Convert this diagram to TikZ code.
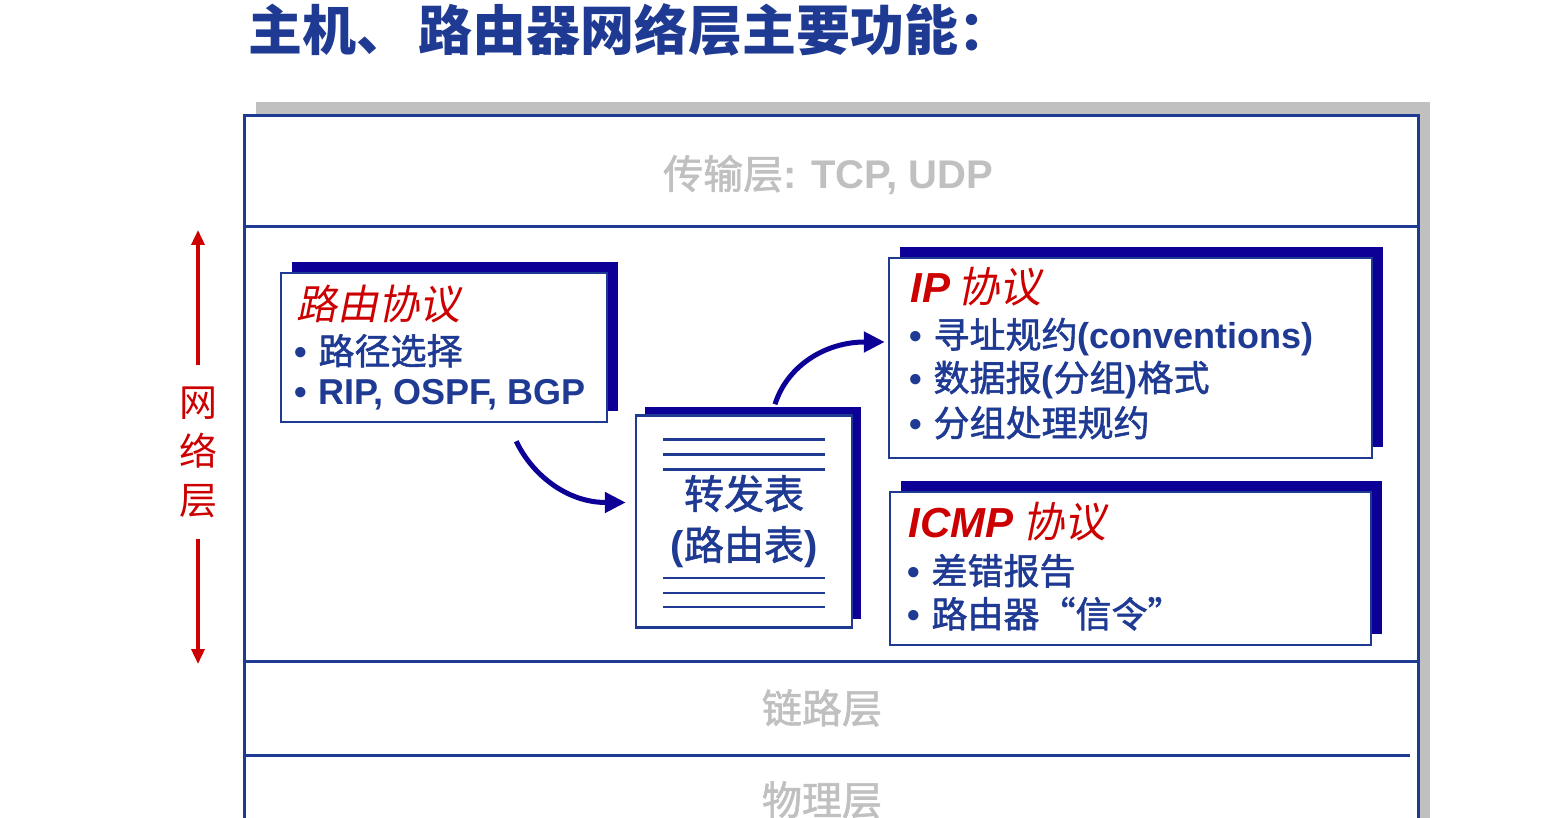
\documentclass[tikz,border=0pt]{standalone}
\usepackage{fontspec}
\setmainfont{Noto Sans CJK SC}[AutoFakeSlant=0.2]
\newfontfamily\cjkmed{Noto Sans CJK SC}[FakeBold=1.5]
\newfontfamily\latin{Liberation Sans}
\usetikzlibrary{arrows.meta,shadows}
\definecolor{netblue}{RGB}{31,58,147}
\definecolor{navy}{RGB}{12,0,150}
\definecolor{netred}{RGB}{204,0,0}
\definecolor{layergray}{RGB}{192,192,192}
\newcommand{\en}[1]{{\latin\bfseries #1}}
\newcommand{\bul}{{\latin\bfseries\textbullet}\hspace{11pt}}

\tikzset{
  panel/.style={draw=netblue, line width=2.5pt, fill=white, inner sep=0pt,
    general shadow={fill=navy, shadow xshift=#1, shadow yshift=#1}},
  panel/.default=11pt,
  hd/.style={anchor=west, inner sep=0pt, text=netred, font=\fontsize{42}{42}\selectfont\itshape},
  item/.style={anchor=west, inner sep=0pt, text=netblue, font=\fontsize{36}{36}\selectfont\cjkmed},
  layer/.style={text=layergray, font=\fontsize{40}{40}\selectfont\cjkmed},
  flow/.style={navy, line width=5pt, -{Triangle[length=21pt,width=20pt]}},
  updown/.style={netred, line width=3.5pt, -{Triangle[length=15pt,width=13pt]}},
  rule/.style={netblue, line width=2.5pt},
}

\begin{document}
\begin{tikzpicture}[x=1pt,y=-1pt]
  \useasboundingbox (0,0) rectangle (1564,818);
  \clip (0,0) rectangle (1564,818);

  \node[anchor=west, inner sep=0pt, text=netblue, font=\fontsize{54}{54}\selectfont\bfseries]
    (title) at (248,30) {主机、\hspace{8pt}路由器网络层主要功能：};

  % protocol stack
  \fill[layergray] (256,102) rectangle (1430,840);
  \draw[netblue, line width=3pt, fill=white] (244,116) rectangle (1418,840);
  \draw[netblue, line width=3pt] (246,227) -- (1418,227);
  \draw[netblue, line width=3pt] (246,661) -- (1418,661);
  \draw[netblue, line width=3pt] (244,755) -- (1410,755);
  \node[layer] (transport) at (828,175) {传输层\en{: TCP, UDP}};
  \node[layer] (link) at (822,708) {链路层};
  \node[layer] (phys) at (822,800) {物理层};

  % network layer marker
  \node[text=netred, align=center, inner xsep=0pt, inner ysep=21pt,
    font=\fontsize{38}{49}\selectfont] (net) at (198,452) {网\\络\\层};
  \coordinate (nettop) at (198,230);
  \coordinate (netbot) at (198,664);
  \draw[updown] (net.north) -- (nettop);
  \draw[updown] (net.south) -- (netbot);

  % boxes
  \node[panel, minimum width=326, minimum height=149] (route) at (444,347.5) {};
  \node[panel=9pt, minimum width=216, minimum height=212] (ftable) at (744,521.5) {};
  \node[panel, minimum width=483, minimum height=200] (ipbox) at (1130.5,358) {};
  \node[panel, minimum width=481, minimum height=153] (icmp) at (1130.5,568.5) {};

  \node[hd, font=\fontsize{41}{41}\selectfont\itshape] (routeT) at ([xshift=17pt,yshift=-32pt]route.north west) {路由协议};
  \node[item] (route1) at ([xshift=15pt,yshift=-79pt]route.north west) {\bul 路径选择};
  \node[item] (route2) at ([xshift=15pt,yshift=-123pt]route.north west) {\bul\en{RIP, OSPF, BGP}};

  \node[text=netblue, align=center, inner sep=0pt, font=\fontsize{40}{51}\selectfont\cjkmed]
    (ftext) at (ftable.center) {转发表\\\en{(}路由表\en{)}};
  \foreach \d in {25,40,55}
    \draw[rule] ([xshift=-81pt,yshift=-\d pt]ftable.north) -- ++(162,0);
  \foreach \d in {51,36,22}
    \draw[rule] ([xshift=-81pt,yshift=\d pt]ftable.south) -- ++(162,0);

  \node[hd] (ipT) at ([xshift=23pt,yshift=-30pt]ipbox.north west) {\en{IP}\hspace{7pt}协议};
  \node[item] (ip1) at ([xshift=22pt,yshift=-80pt]ipbox.north west) {\bul 寻址规约\en{(conventions)}};
  \node[item] (ip2) at ([xshift=22pt,yshift=-123pt]ipbox.north west) {\bul 数据报\en{(}分组\en{)}格式};
  \node[item] (ip3) at ([xshift=22pt,yshift=-166pt]ipbox.north west) {\bul 分组处理规约};

  \node[hd] (icmpT) at ([xshift=20pt,yshift=-31pt]icmp.north west) {\en{ICMP}\hspace{9pt}协议};
  \node[item] (icmp1) at ([xshift=19pt,yshift=-80pt]icmp.north west) {\bul 差错报告};
  \node[item] (icmp2) at ([xshift=19pt,yshift=-123pt]icmp.north west) {\bul 路由器“信令”};

  % flows
  \draw[flow] ([xshift=-92pt,yshift=-18pt]route.south east)
    .. controls +(15,32) and +(-60,0) .. ([xshift=-9pt,yshift=19pt]ftable.west);
  \draw[flow] ([xshift=31pt,yshift=10pt]ftable.north)
    .. controls +(12,-38) and +(-60,0) .. ([xshift=-3pt,yshift=16pt]ipbox.west);
\end{tikzpicture}
\end{document}
